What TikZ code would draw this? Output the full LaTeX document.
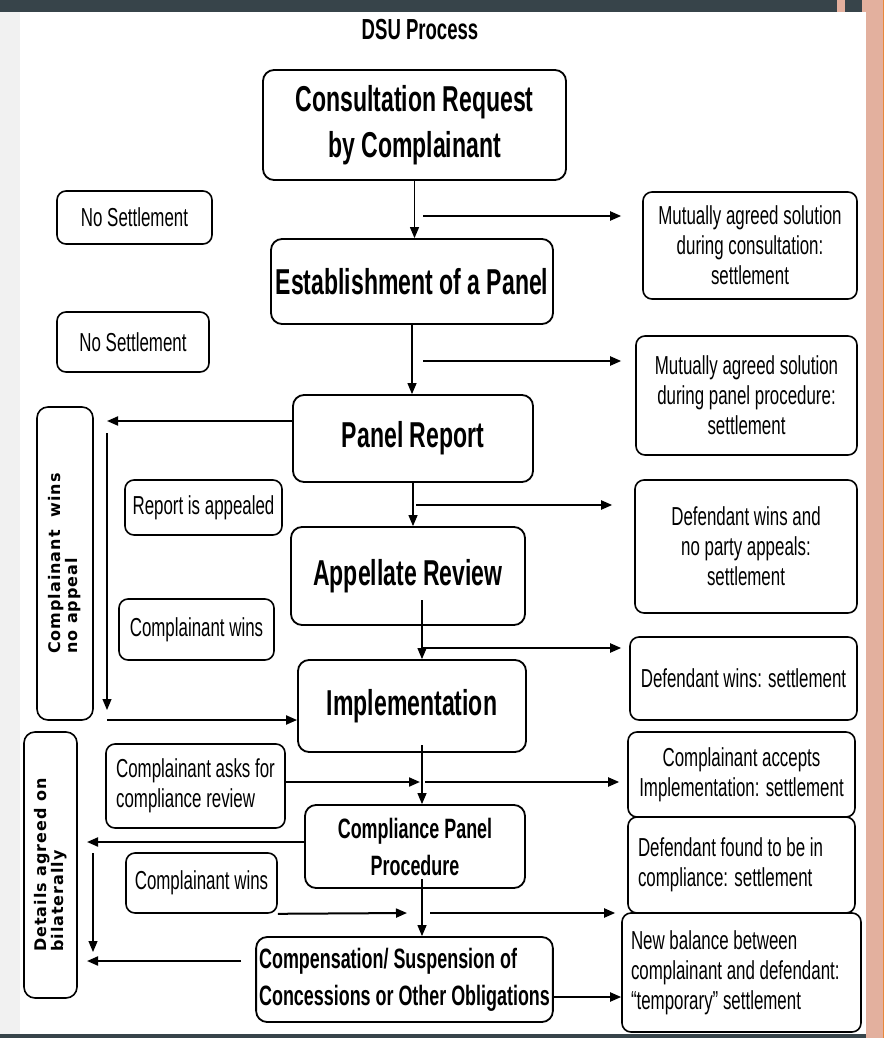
\documentclass[tikz,border=0pt]{standalone}
\usepackage{fontspec}
\setmainfont[FakeStretch=0.65]{Liberation Sans}
\newfontfamily\headfont[FakeStretch=0.64]{Liberation Sans}
\newfontfamily\sidefont[LetterSpace=6]{DejaVu Sans}
\usepackage{tikz}
\usetikzlibrary{arrows.meta}
\definecolor{slidedark}{HTML}{37444A}
\definecolor{slidesalmon}{HTML}{E3B09E}
\definecolor{slidegray}{HTML}{F1F1F1}
\definecolor{slideorange}{HTML}{E8873A}

\begin{document}
\begin{tikzpicture}[x=1pt,y=-1pt,>={Triangle[length=11pt,width=9pt]},
  mainbox/.style={draw,line width=1.8pt,rounded corners=11pt,align=center,inner sep=2pt,
    font=\headfont\fontsize{36}{46}\selectfont\bfseries},
  subbox/.style={mainbox,font=\headfont\fontsize{28}{37}\selectfont\bfseries},
  sidebox/.style={draw,line width=1.6pt,rounded corners=9pt,align=center,inner sep=2pt,
    font=\fontsize{26}{30}\selectfont},
  tallbox/.style={draw,line width=1.6pt,rounded corners=11pt,align=left,inner sep=2pt,rotate=90,
    font=\sidefont\fontsize{16}{17}\selectfont\bfseries},
  vline/.style={line width=1.2pt},
  hline/.style={line width=2pt}]
  % slide frame
  \useasboundingbox (0,0) rectangle (884,1038);
  \fill[slidegray] (0,12) rectangle (20,1034);
  \fill[white] (20,12) rectangle (866,1034);
  \fill[slidedark] (0,0) rectangle (837,12);
  \fill[slidesalmon] (837,0) rectangle (845,12);
  \fill[slidedark] (845,0) rectangle (862,12);
  \fill[slidesalmon] (862,0) rectangle (884,12);
  \fill[slidesalmon] (866,12) rectangle (884,1038);
  \fill[slidedark] (0,1034) rectangle (866,1038);
  \draw[slideorange,line width=1pt] (883.5,0) -- (883.5,1038);
  \node[font=\headfont\fontsize{29}{30}\selectfont\bfseries] (title) at (420,30) {DSU Process};

  % main column
  \node[mainbox,minimum width=303pt,minimum height=110pt] (cons) at (414.5,125) {Consultation Request\\by Complainant};
  \node[mainbox,minimum width=282pt,minimum height=85pt] (estab) at (412,281.5) {Establishment of a Panel};
  \node[mainbox,minimum width=240pt,minimum height=87pt] (prep) at (413,438.5) {Panel Report};
  \node[mainbox,minimum width=234pt,minimum height=98pt] (appel) at (408,576) {Appellate Review};
  \node[mainbox,minimum width=228pt,minimum height=92pt] (impl) at (412,706) {Implementation};
  \node[subbox,minimum width=220pt,minimum height=83pt] (compl) at (415,846.5) {Compliance Panel\\Procedure};
  \node[subbox,minimum width=295pt,minimum height=85pt,align=left,inner xsep=3pt] (comp) at (404.5,979.5) {Compensation/ Suspension of\\Concessions or Other Obligations};

  % left column
  \node[sidebox,minimum width=155pt,minimum height=53pt] (ns1) at (134.5,217.5) {No Settlement};
  \node[sidebox,minimum width=152pt,minimum height=60pt] (ns2) at (133,342) {No Settlement};
  \node[sidebox,minimum width=157pt,minimum height=55pt] (appealed) at (203.5,507.5) {Report is appealed};
  \node[sidebox,minimum width=155pt,minimum height=61pt] (cwins1) at (196.5,629.5) {Complainant wins};
  \node[sidebox,minimum width=179pt,minimum height=84pt,align=left] (asks) at (195.5,786) {Complainant asks for\\compliance review};
  \node[sidebox,minimum width=151pt,minimum height=60pt] (cwins2) at (201.5,883) {Complainant wins};
  \node[tallbox,minimum width=313pt,minimum height=56pt] (noapp) at (65,563.5) {Complainant\ \ wins\\no appeal};
  \node[tallbox,minimum width=266pt,minimum height=53pt] (bilat) at (50.5,865) {Details agreed on\\bilaterally};

  % right column
  \node[sidebox,minimum width=214pt,minimum height=107pt] (mas1) at (750,245.5) {Mutually agreed solution\\during consultation:\\settlement};
  \node[sidebox,minimum width=221pt,minimum height=119pt] (mas2) at (746.5,395.5) {Mutually agreed solution\\during panel procedure:\\settlement};
  \node[sidebox,minimum width=222pt,minimum height=133pt] (dwa) at (746,546.5) {Defendant wins and\\no party appeals:\\settlement};
  \node[sidebox,minimum width=227pt,minimum height=83pt] (dws) at (743.5,678.5) {Defendant wins: settlement};
  \node[sidebox,minimum width=227pt,minimum height=85pt] (acc) at (741.5,774.5) {Complainant accepts\\Implementation: settlement};
  \node[sidebox,minimum width=227pt,minimum height=96pt,text width=207pt,align=flush left,inner xsep=10pt] (dfc) at (741.5,865) {Defendant found to be in\\compliance: settlement};
  \node[sidebox,minimum width=239pt,minimum height=119pt,text width=221pt,align=flush left,inner xsep=9pt] (nb) at (741.5,972.5) {New balance between\\complainant and defendant:\\``temporary'' settlement};

  % flow down the middle
  \draw[vline,->] (cons.south) -- (cons.south |- estab.north);
  \draw[vline,->] (estab.south) -- (estab.south |- prep.north);
  \draw[vline,->] (prep.south) -- (prep.south |- appel.north);
  \coordinate (a1) at (422,600);
  \draw[vline,->] (a1) -- (a1 |- impl.north);
  \coordinate (i1) at (422,745);
  \draw[vline,->] (i1) -- (i1 |- compl.north);
  \coordinate (p1) at (422,879);
  \draw[vline,->] (p1) -- (p1 |- comp.north);

  % settlements to the right
  \coordinate (j1) at (423,216);
  \draw[hline,->,shorten >=21pt] (j1) -- (j1 -| mas1.west);
  \coordinate (j2) at (423,361);
  \draw[hline,->,shorten >=14pt] (j2) -- (j2 -| mas2.west);
  \coordinate (j3) at (416,505);
  \draw[hline,->,shorten >=22pt] (j3) -- (j3 -| dwa.west);
  \coordinate (j4) at (422,648);
  \draw[hline,->,shorten >=8pt] (j4) -- (j4 -| dws.west);
  \coordinate (j5) at (425,782);
  \draw[hline,->,shorten >=8pt] (j5) -- (j5 -| acc.west);
  \coordinate (j6) at (430,913);
  \draw[hline,->,shorten >=12pt] (j6) -- (j6 -| dfc.west);
  \draw[hline,->] (comp.east |- 0,997) -- (nb.west |- 0,997);

  % inputs from the left
  \coordinate (k1) at (420,782);
  \draw[hline,->] (asks.east |- k1) -- (k1);
  \coordinate (k2) at (407,913);
  \draw[hline,->] (cwins2.south east) -- (k2);

  % back to the left boxes
  \coordinate (l1) at (107,421);
  \draw[hline,->] (prep.west |- l1) -- (l1);
  \coordinate (l2) at (107,433);
  \coordinate (l3) at (107,710);
  \draw[vline,->] (l2) -- (l3);
  \coordinate (l4) at (107,720);
  \draw[hline,->] (l4) -- (l4 -| impl.west);
  \coordinate (m1) at (87,842);
  \draw[hline,->] (compl.west |- m1) -- (m1);
  \coordinate (m2) at (93,853);
  \coordinate (m3) at (93,952);
  \draw[vline,->] (m2) -- (m3);
  \coordinate (m4) at (87,961);
  \draw[hline,->,shorten <=14pt] (comp.west |- m4) -- (m4);
\end{tikzpicture}
\end{document}
